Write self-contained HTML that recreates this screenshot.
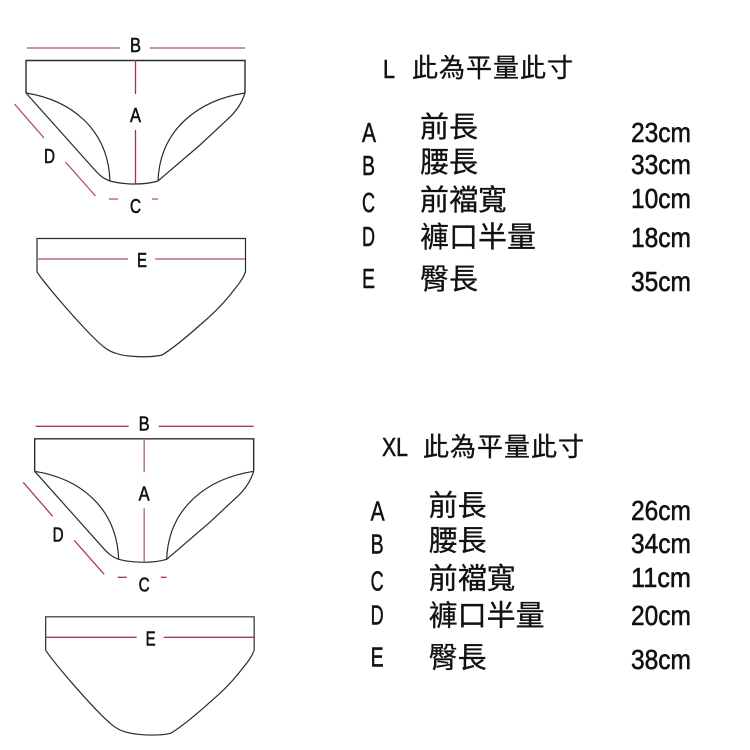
<!DOCTYPE html>
<html><head><meta charset="utf-8"><style>
html,body{margin:0;padding:0;background:#fff}
svg{display:block}
text{fill:#111}
.l{font-family:"Liberation Sans",sans-serif;stroke:#111;stroke-width:.55}
.c{font-family:"Liberation Sans","WenQuanYi Zen Hei","Noto Sans CJK TC",sans-serif;stroke:#111;stroke-width:.3}
</style></head><body>
<svg width="750" height="750" viewBox="0 0 750 750" xmlns="http://www.w3.org/2000/svg">
<g id="L">
<g fill="none" stroke="#2a2a33" stroke-width="1.2">
<path d="M26 93V60.500H245V93" stroke-width="1.4"/>
<path d="M26 93C70 100 108 128 110 181"/>
<path d="M245 93C200 100 160 128 158 181"/>
<path d="M26 93L93 168C100 176 104 179 110 181C125 185 145 185 158 181L200 145L230 117C238 109 242 102 245 93"/>
<path d="M37 272V238.500H245.500V272"/>
<path d="M37 272C48 288 78 322 93 337C102 346 108 351 115 353C125 357 150 358 162 355C175 347 190 334 200 325C212 315 222 305 230 295C237 286 242 281 245.500 272"/>
</g>
<g fill="none" stroke="#b0505f" stroke-width="1.3">
<path d="M27 48H120M150 48H245"/>
<path d="M135.500 60V94M135.500 130V184" stroke="#a03545"/>
<path d="M14.500 104L44 138M65.500 162L95.500 196"/>
<path d="M109 199H118M152 199H158"/>
<path d="M37 259H128M155 259H245"/>
</g>
<g class="l" font-size="20">
<text x="130" y="52" textLength="11" lengthAdjust="spacingAndGlyphs">B</text>
<text x="130" y="122" textLength="11" lengthAdjust="spacingAndGlyphs">A</text>
<text x="44" y="163" textLength="11" lengthAdjust="spacingAndGlyphs">D</text>
<text x="130" y="213" textLength="11" lengthAdjust="spacingAndGlyphs">C</text>
<text x="137" y="267" textLength="10" lengthAdjust="spacingAndGlyphs">E</text>
</g>
<g class="l" font-size="28">
<text x="362" y="142" textLength="14" lengthAdjust="spacingAndGlyphs">A</text>
<text x="362" y="175" textLength="13" lengthAdjust="spacingAndGlyphs">B</text>
<text x="362" y="212" textLength="13" lengthAdjust="spacingAndGlyphs">C</text>
<text x="362" y="246" textLength="13" lengthAdjust="spacingAndGlyphs">D</text>
<text x="362" y="288" textLength="13" lengthAdjust="spacingAndGlyphs">E</text>
</g>
<g class="c" font-size="29">
<text x="420" y="137">前長</text>
<text x="420" y="172">腰長</text>
<text x="420" y="210">前襠寬</text>
<text x="420" y="247">褲口半量</text>
<text x="420" y="289">臀長</text>
</g>
</g>
<g id="XL" transform="translate(8.67 378.3)">
<g fill="none" stroke="#2a2a33" stroke-width="1.2">
<path d="M26 93V60.500H245V93" stroke-width="1.4"/>
<path d="M26 93C70 100 108 128 110 181"/>
<path d="M245 93C200 100 160 128 158 181"/>
<path d="M26 93L93 168C100 176 104 179 110 181C125 185 145 185 158 181L200 145L230 117C238 109 242 102 245 93"/>
<path d="M37 272V238.500H245.500V272"/>
<path d="M37 272C48 288 78 322 93 337C102 346 108 351 115 353C125 357 150 358 162 355C175 347 190 334 200 325C212 315 222 305 230 295C237 286 242 281 245.500 272"/>
</g>
<g fill="none" stroke="#a84050" stroke-width="1.3">
<path d="M27 48H120M150 48H245"/>
<path d="M135.500 60V94M135.500 130V184" stroke="#b8606e"/>
<path d="M14.500 104L44 138M65.500 162L95.500 196"/>
<path d="M109 199H118M152 199H158"/>
<path d="M37 259H128M155 259H245"/>
</g>
<g class="l" font-size="20">
<text x="130" y="52" textLength="11" lengthAdjust="spacingAndGlyphs">B</text>
<text x="130" y="122" textLength="11" lengthAdjust="spacingAndGlyphs">A</text>
<text x="44" y="163" textLength="11" lengthAdjust="spacingAndGlyphs">D</text>
<text x="130" y="213" textLength="11" lengthAdjust="spacingAndGlyphs">C</text>
<text x="137" y="267" textLength="10" lengthAdjust="spacingAndGlyphs">E</text>
</g>
<g class="l" font-size="28">
<text x="362" y="142" textLength="14" lengthAdjust="spacingAndGlyphs">A</text>
<text x="362" y="175" textLength="13" lengthAdjust="spacingAndGlyphs">B</text>
<text x="362" y="212" textLength="13" lengthAdjust="spacingAndGlyphs">C</text>
<text x="362" y="246" textLength="13" lengthAdjust="spacingAndGlyphs">D</text>
<text x="362" y="288" textLength="13" lengthAdjust="spacingAndGlyphs">E</text>
</g>
<g class="c" font-size="29">
<text x="420" y="137">前長</text>
<text x="420" y="172">腰長</text>
<text x="420" y="210">前襠寬</text>
<text x="420" y="247">褲口半量</text>
<text x="420" y="289">臀長</text>
</g>
</g>
<g class="l" font-size="28">
<text x="631" y="142" textLength="60" lengthAdjust="spacingAndGlyphs">23cm</text>
<text x="631" y="174" textLength="60" lengthAdjust="spacingAndGlyphs">33cm</text>
<text x="631" y="208" textLength="60" lengthAdjust="spacingAndGlyphs">10cm</text>
<text x="631" y="247" textLength="60" lengthAdjust="spacingAndGlyphs">18cm</text>
<text x="631" y="291" textLength="60" lengthAdjust="spacingAndGlyphs">35cm</text>
<text x="631" y="520" textLength="60" lengthAdjust="spacingAndGlyphs">26cm</text>
<text x="631" y="553" textLength="60" lengthAdjust="spacingAndGlyphs">34cm</text>
<text x="631" y="587" textLength="60" lengthAdjust="spacingAndGlyphs">11cm</text>
<text x="631" y="625" textLength="60" lengthAdjust="spacingAndGlyphs">20cm</text>
<text x="631" y="669" textLength="60" lengthAdjust="spacingAndGlyphs">38cm</text>
</g>
<g font-size="26">
<text class="l" x="383" y="78" textLength="12" lengthAdjust="spacingAndGlyphs">L</text>
<text class="c" x="412" y="77" textLength="161" lengthAdjust="spacing">此為平量此寸</text>
<text class="l" x="382" y="456" textLength="26" lengthAdjust="spacingAndGlyphs">XL</text>
<text class="c" x="423" y="456" textLength="161" lengthAdjust="spacing">此為平量此寸</text>
</g>
</svg>
</body></html>
